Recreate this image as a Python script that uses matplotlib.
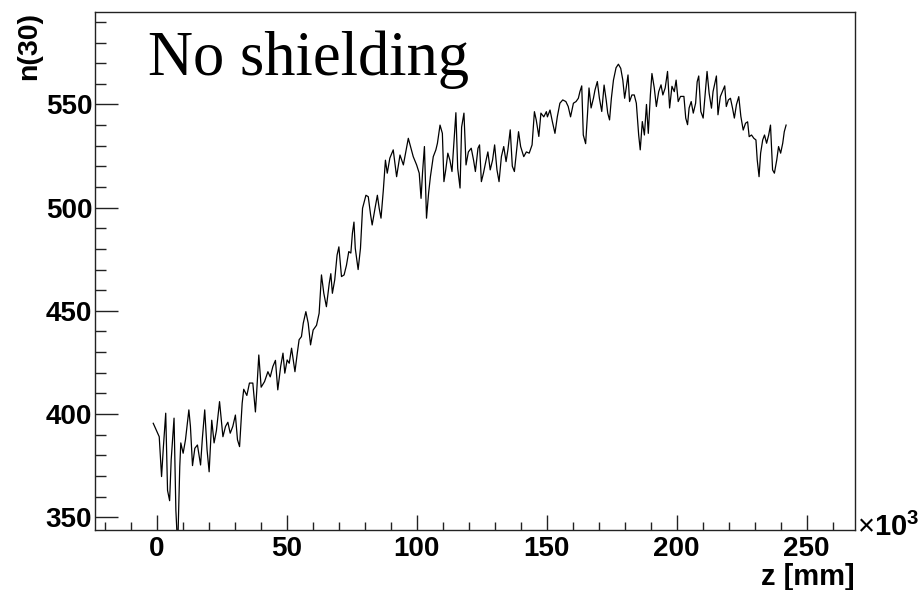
import numpy as np
import matplotlib
matplotlib.use('Agg')
import matplotlib.pyplot as plt
from matplotlib.ticker import MultipleLocator

# z in units of 10^3 mm, n(30)
z = [-1.3, 1.0, 1.9, 2.6, 3.5, 4.2, 5.0, 5.6, 6.7, 7.4, 8.1, 8.9, 9.3, 10.2, 11.1, 12.4, 13.0, 13.8, 14.7, 15.7,
     16.9, 17.6, 18.5, 19.4, 20.2, 21.2, 22.1, 23.0, 24.2, 25.5, 26.5, 27.4, 28.3, 29.3, 30.3, 31.1, 31.9, 32.9, 33.5, 34.7,
     35.7, 37.0, 38.0, 38.5, 39.3, 40.2, 41.5, 42.8, 43.7, 44.7, 45.7, 46.6, 47.7, 48.6, 49.3, 50.2, 51.0, 51.9, 53.2, 54.1,
     54.8, 55.7, 56.4, 57.4, 58.3, 59.2, 60.2, 61.5, 62.5, 63.4, 64.3, 65.3, 66.4, 67.0, 67.6, 68.5, 69.4, 70.1, 71.1, 72.1,
     73.0, 73.9, 74.7, 75.3, 75.9, 76.4, 77.5, 78.4, 79.2, 80.5, 81.4, 82.3, 82.9, 84.0, 84.9, 85.6, 86.3, 87.2, 88.0, 88.7,
     89.7, 91.0, 92.3, 93.6, 94.9, 96.8, 98.7, 100.0, 101.0, 101.7, 102.3, 103.0, 103.8, 104.6, 105.3, 106.4, 107.4, 108.0, 109.0, 109.9,
     110.5, 111.2, 112.0, 112.8, 113.6, 114.5, 115.1, 115.8, 116.7, 117.3, 118.2, 119.0, 119.9, 121.0, 121.9, 122.6, 123.6, 124.2, 124.9, 125.7,
     126.6, 127.4, 128.3, 129.2, 130.0, 130.9, 131.7, 132.6, 133.5, 134.4, 135.1, 136.0, 136.8, 137.6, 138.4, 139.2, 140.0, 141.2, 142.2, 143.3,
     144.4, 145.3, 146.0, 147.0, 147.8, 148.9, 149.9, 150.3, 151.3, 152.2, 153.2, 154.1, 155.1, 156.2, 157.4, 158.3, 159.2, 160.3, 161.3, 162.2,
     162.8, 163.5, 164.1, 165.0, 165.7, 166.3, 167.1, 168.0, 168.6, 169.5, 170.3, 171.2, 172.1, 172.9, 173.5, 174.2, 174.9, 175.7, 176.7, 177.6,
     178.5, 179.3, 180.0, 180.6, 181.3, 181.9, 182.8, 183.7, 184.5, 185.4, 186.0, 186.8, 187.6, 188.4, 189.1, 189.9, 190.5, 191.4, 192.2, 193.1,
     194.0, 194.7, 195.6, 196.5, 197.3, 198.2, 199.1, 199.8, 200.6, 201.5, 202.8, 203.5, 204.2, 204.8, 205.6, 206.4, 207.3, 207.9, 208.5, 209.3,
     210.2, 211.1, 211.7, 212.5, 213.4, 214.0, 214.7, 215.3, 215.9, 216.8, 217.6, 218.5, 219.1, 219.9, 220.7, 221.5, 222.2, 223.0, 223.9, 224.7,
     225.6, 226.5, 227.3, 227.9, 228.8, 229.7, 230.5, 231.0, 231.7, 232.3, 233.1, 233.8, 234.6, 235.4, 236.1, 236.9, 237.6, 238.5, 239.2, 240.0,
     240.8, 241.4, 242.1]
n30 = [395.5, 389.0, 369.7, 384.0, 400.4, 363.0, 358.0, 377.8, 398.0, 353.5, 335.0, 374.5, 386.0, 381.0, 387.5, 402.0, 394.0, 375.0, 383.4, 385.0,
       375.3, 388.3, 402.0, 382.6, 372.0, 397.0, 386.0, 392.0, 406.0, 389.0, 394.0, 396.0, 390.7, 394.0, 399.5, 387.5, 384.2, 405.2, 412.0, 409.0,
       415.0, 415.0, 401.0, 411.0, 428.6, 413.0, 415.7, 420.5, 418.0, 423.0, 426.0, 411.7, 423.0, 429.5, 419.8, 426.2, 424.6, 431.9, 420.5, 429.5,
       436.0, 437.5, 444.0, 449.6, 444.0, 433.5, 440.7, 443.0, 448.8, 467.4, 458.5, 452.0, 463.4, 468.0, 458.5, 465.0, 477.0, 481.0, 466.6, 467.4,
       472.0, 478.7, 478.0, 487.6, 493.0, 480.3, 470.0, 480.3, 499.7, 506.0, 505.3, 496.5, 491.6, 499.7, 506.0, 499.7, 494.9, 508.6, 523.0, 516.7,
       524.0, 528.0, 515.0, 525.5, 520.7, 533.6, 524.7, 520.7, 516.7, 504.5, 517.5, 529.6, 494.9, 507.0, 515.0, 524.7, 528.0, 531.2, 540.0, 536.0,
       512.6, 518.3, 526.4, 523.0, 517.5, 534.4, 546.0, 519.0, 509.5, 539.0, 545.8, 520.7, 527.0, 528.8, 523.0, 517.5, 528.8, 530.4, 512.6, 516.7,
       522.3, 527.0, 518.3, 523.0, 530.4, 518.3, 512.6, 524.7, 529.6, 522.3, 528.0, 537.7, 520.1, 517.5, 527.0, 536.8, 529.6, 524.7, 527.0, 526.4,
       530.4, 546.5, 542.5, 534.5, 545.8, 544.0, 546.5, 544.0, 547.3, 541.7, 536.0, 544.0, 550.6, 552.2, 551.4, 549.0, 544.0, 550.6, 551.4, 553.0,
       556.2, 559.0, 535.2, 531.0, 545.0, 558.0, 548.3, 553.0, 557.0, 561.1, 553.0, 546.6, 559.4, 552.2, 545.8, 542.5, 553.0, 561.8, 567.8, 569.5,
       567.5, 561.8, 553.0, 558.0, 564.3, 551.4, 554.6, 554.6, 550.6, 535.2, 528.0, 541.7, 535.2, 550.0, 536.0, 554.6, 565.0, 558.0, 549.0, 556.2,
       559.5, 554.6, 558.0, 566.0, 548.3, 558.8, 556.2, 561.8, 551.4, 553.9, 553.9, 543.4, 540.2, 548.3, 551.4, 545.8, 550.6, 561.0, 563.8, 546.6,
       543.4, 557.0, 566.0, 555.4, 548.2, 556.2, 560.3, 563.8, 545.0, 553.8, 556.2, 559.0, 549.0, 552.2, 553.0, 548.2, 543.4, 549.9, 553.8, 544.2,
       537.6, 540.9, 541.6, 534.4, 535.2, 533.6, 532.8, 523.1, 515.0, 526.4, 532.8, 535.2, 531.2, 535.2, 540.0, 518.3, 516.7, 523.1, 529.6, 526.4,
       531.2, 536.8, 540.0]

x_range = (-23.7, 268.6)
y_range = (343.8, 594.8)

plt.rcParams['font.family'] = ['Liberation Sans', 'DejaVu Sans']
plt.rcParams['mathtext.fontset'] = 'custom'
plt.rcParams['mathtext.rm'] = 'Liberation Sans'
plt.rcParams['mathtext.bf'] = 'Liberation Sans:bold'

fig = plt.figure(figsize=(9.2, 5.9), dpi=100)
ax = fig.add_axes([95/920, 1 - 530/590, 760/920, 518/590])

ax.plot(z, n30, color='black', lw=0.9)
ax.set_xlim(x_range)
ax.set_ylim(y_range)

for s in ax.spines.values():
	s.set_linewidth(1.0)
	s.set_color('#222222')

ax.xaxis.set_major_locator(MultipleLocator(50))
ax.xaxis.set_minor_locator(MultipleLocator(10))
ax.yaxis.set_major_locator(MultipleLocator(50))
ax.yaxis.set_minor_locator(MultipleLocator(10))

ax.tick_params(axis='both', which='both', direction='in', color='#222222', width=1.0)
ax.tick_params(axis='x', which='major', length=10.8, pad=4, labelsize=20)
ax.tick_params(axis='x', which='minor', length=5.8)
ax.tick_params(axis='y', which='major', length=16.5, pad=2, labelsize=20)
ax.tick_params(axis='y', which='minor', length=8)
for lab in ax.get_xticklabels() + ax.get_yticklabels():
	lab.set_fontweight('bold')

ax.set_ylabel('n(30)', fontsize=20.5, fontweight='bold', loc='top')
ax.yaxis.set_label_coords(-0.07, 1.0)
ax.set_xlabel('z [mm]', fontsize=21, fontweight='bold', loc='right')
ax.xaxis.set_label_coords(1.0, -0.064)

ax.text(1.003, 0.005, r'$\times\mathbf{10^{3}}$', transform=ax.transAxes,
        fontsize=21, ha='left', va='center')

ax.text(0.0697, 0.878, 'No shielding', transform=ax.transAxes,
        fontsize=45, family='Liberation Serif', ha='left', va='baseline')

fig.savefig('out.png', dpi=100)
